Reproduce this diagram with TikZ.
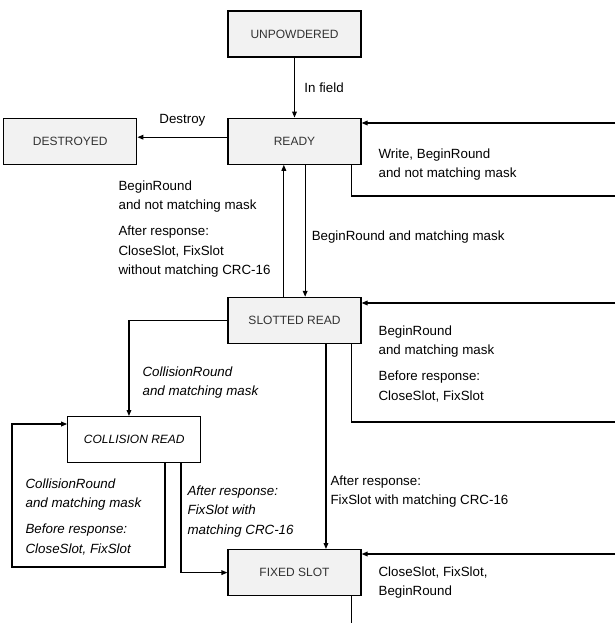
\documentclass[tikz,border=0pt]{standalone}
\usepackage{fontspec}
\setmainfont{Liberation Sans}
\usetikzlibrary{arrows.meta, positioning, calc}

\begin{document}
\begin{tikzpicture}[
    x=0.75pt, y=-0.75pt,
    >={Triangle[length=4.5pt,width=3.5pt]},
    line width=0.9pt,
    state/.style={draw, fill=gray!10, minimum width=99.75pt, minimum height=34.5pt,
      font=\fontsize{9pt}{11pt}\selectfont, text=black!80},
    cstate/.style={state, fill=white, text=black, font=\fontsize{9pt}{11pt}\selectfont\itshape},
    lbl/.style={font=\fontsize{10pt}{14.6pt}\selectfont, align=left, inner sep=0pt},
    ilbl/.style={lbl, font=\fontsize{10pt}{14.6pt}\selectfont\itshape},
  ]
  \useasboundingbox (0,0) rectangle (615,623);
  \node[state] (up) at (294.5,34) {UNPOWDERED};
  \node[state, below=45pt of up] (ready) {READY};
  \node[state, left=67.5pt of ready] (dest) {DESTROYED};
  \node[state, below=99pt of ready] (slot) {SLOTTED READ};
  \node[state, below=153.75pt of slot] (fixed) {FIXED SLOT};
  \node[cstate, below left=54pt and 19.5pt of slot] (coll) {COLLISION READ};
  % free ends at the right border
  \coordinate (rdy-in) at (615,123);
  \coordinate (rdy-out) at (615,196);
  \coordinate (sl-in) at (615,303);
  \coordinate (sl-out) at (615,422);
  \coordinate (fx-in) at (615,554);
  \coordinate (fx-out) at (0,623);
  \coordinate (cl-corner) at (12,567);
  \coordinate (rdy-drop) at ([xshift=-7.5pt]ready.south east);
  \coordinate (sl-drop) at ([xshift=-7.5pt]slot.south east);
  \coordinate (fx-drop) at ([xshift=-7.5pt]fixed.south east);
  % main transitions
  \draw[->] (up) -- node[lbl, right=7pt] (l-field) {In field} (ready);
  \draw[->] ([yshift=3pt]ready.west) -- node[lbl, above=7.5pt] (l-dest) {Destroy} ([yshift=3pt]dest.east);
  \draw[->] ([xshift=-8pt]slot.north) -- ([xshift=-8pt]ready.south);
  \draw[->] ([xshift=8pt]ready.south) -- node[lbl, pos=0.55, right=4.5pt] (l-begin) {BeginRound and matching mask} ([xshift=8pt]slot.north);
  \draw[->] ([xshift=23.6pt]slot.south) -- node[lbl, pos=0.72, right=3pt] (l-fix) {After response:\\FixSlot with matching CRC-16} ([xshift=23.6pt]fixed.north);
  \draw[->] (slot.west) -| ([xshift=-4pt]coll.north);
  \draw[->] ([xshift=35pt]coll.south) |- (fixed.west);
  % loops
  \draw[->] (rdy-in) -- (rdy-in -| ready.east);
  \draw (rdy-drop) |- (rdy-out);
  \draw[->] (sl-in) -- (sl-in -| slot.east);
  \draw (sl-drop) |- (sl-out);
  \draw[->] (fx-in) -- (fx-in -| fixed.east);
  \draw (fx-drop) -- (fx-drop |- fx-out);
  \draw[->] ([xshift=23pt]coll.south) |- (cl-corner) |- ([yshift=-6pt]coll.north west);
  % labels
  \node[lbl, anchor=north west] (l-write) at (378,148) {Write, BeginRound\\and not matching mask};
  \node[lbl, anchor=north west] (l-back) at (118,180) {BeginRound\\and not matching mask\\[4.9pt]After response:\\CloseSlot, FixSlot\\without matching CRC-16};
  \node[lbl, anchor=north west] (l-slot) at (378,325) {BeginRound\\and matching mask\\[4.9pt]Before response:\\CloseSlot, FixSlot};
  \node[ilbl, anchor=north west] (l-cround) at (142,366) {CollisionRound\\and matching mask};
  \node[ilbl, anchor=north west] (l-cloop) at (25,478) {CollisionRound\\and matching mask\\[4.9pt]Before response:\\CloseSlot, FixSlot};
  \node[ilbl, anchor=north west] (l-cfix) at (187,485) {After response:\\FixSlot with\\matching CRC-16};
  \node[lbl, anchor=north west] (l-fixed) at (378,566) {CloseSlot, FixSlot,\\BeginRound};
\end{tikzpicture}
\end{document}
